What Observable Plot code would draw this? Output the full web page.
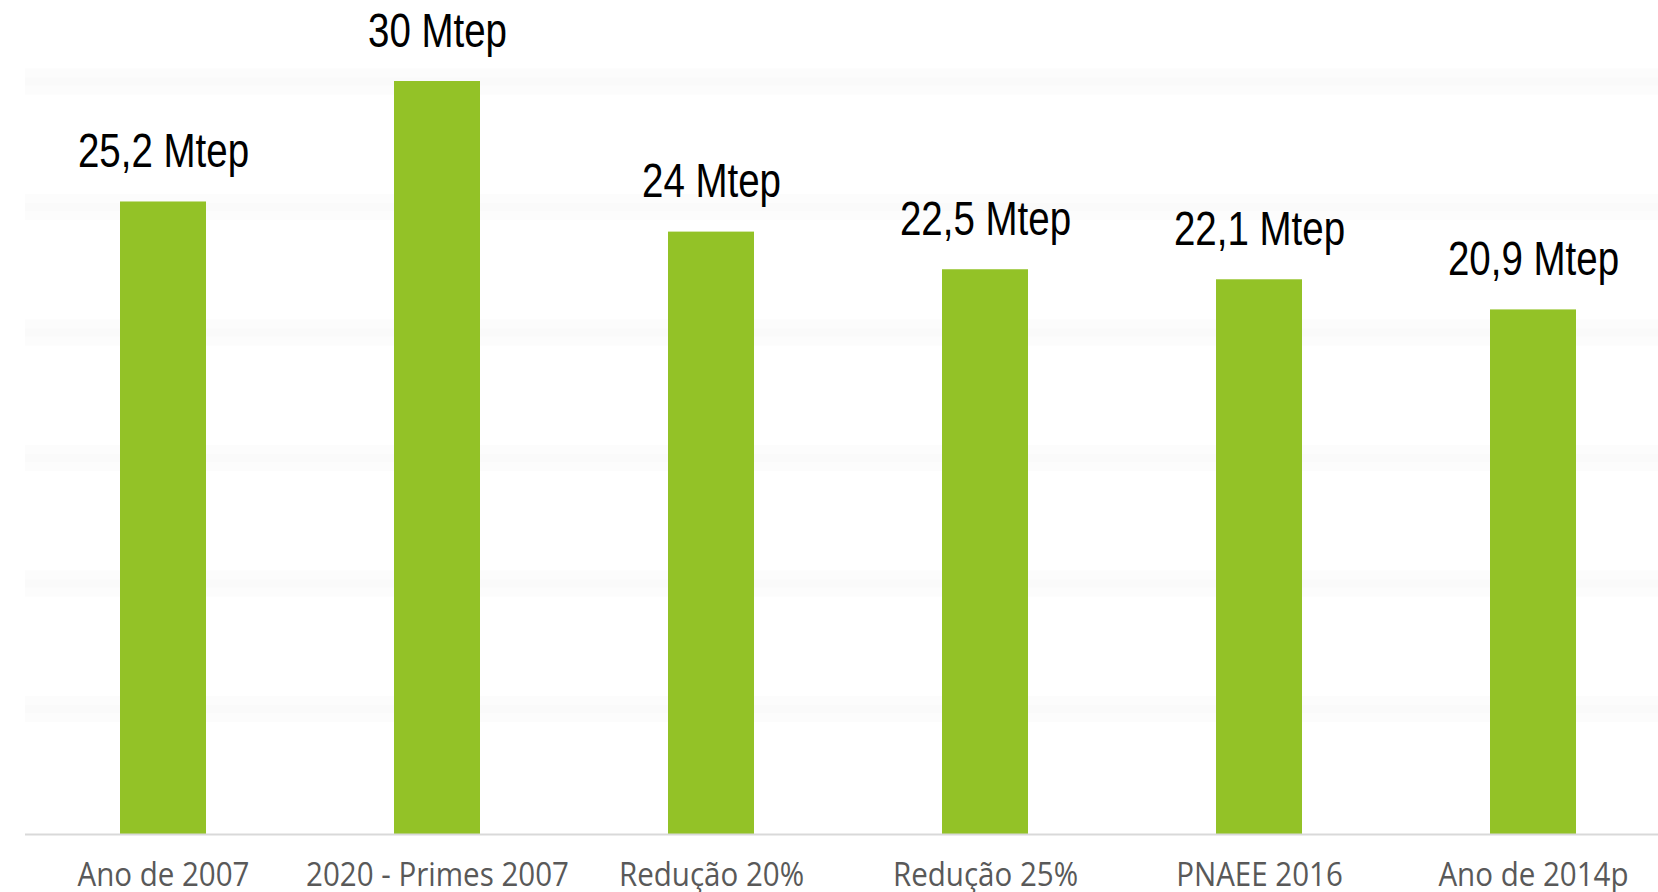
<!DOCTYPE html>
<html>
<head>
<meta charset="utf-8">
<script src="https://cdn.jsdelivr.net/npm/d3@7"></script>
<script src="https://cdn.jsdelivr.net/npm/@observablehq/plot@0.6"></script>
<style>
  html, body { margin: 0; padding: 0; background: #ffffff; }
  #chart svg { display: block; }
</style>
</head>
<body>
<div id="chart"></div>
<script>
const categories = ["Ano de 2007", "2020 - Primes 2007", "Redução 20%", "Redução 25%", "PNAEE 2016", "Ano de 2014p"];
const values = [25.2, 30, 24, 22.5, 22.1, 20.9];
const unit = "Mtep";
const gridTicks = [5, 10, 15, 20, 25, 30];

const data = categories.map((c, i) => ({category: c, value: values[i]}));
const fmt = v => String(v).replace(".", ",") + " " + unit;

const chart = Plot.plot({
  width: 1658,
  height: 892,
  marginLeft: 25,
  marginRight: 0,
  marginTop: 81,
  marginBottom: 58,
  style: {background: "#ffffff", overflow: "visible"},
  x: {domain: categories, range: [24, 1672], paddingInner: 0.687, paddingOuter: 0.342, label: null},
  y: {domain: [0, 30], axis: null},
  marks: [
    Plot.ruleY(gridTicks, {stroke: "#fcfcfc", strokeWidth: 26}),
    Plot.ruleY(gridTicks, {stroke: "#fafafa", strokeWidth: 8}),
    Plot.barY(data, {x: "category", y: "value", fill: "#93C227"}),
    Plot.ruleY([0], {stroke: "#d9d9d9", strokeWidth: 2}),
    Plot.text(data, {
      x: "category", y: "value", text: d => fmt(d.value),
      lineAnchor: "bottom", dy: -35,
      fontSize: 48, fill: "#000000", className: "vlabel",
      fontFamily: "'Liberation Sans Narrow', 'Liberation Sans', Arial, sans-serif"
    }),
    Plot.axisX({
      tickSize: 0, tickPadding: 29, fontSize: 32, fill: "#595959",
      fontFamily: "'Open Sans', 'Noto Sans', sans-serif", className: "xlabels"
    })
  ]
});

document.getElementById("chart").appendChild(chart);

// horizontally condense the text to match the original's narrow faces
function condense(selector, refText, targetWidth) {
  const texts = Array.from(chart.querySelectorAll(selector));
  const ref = texts.find(t => t.textContent === refText);
  if (!ref) return;
  const factor = targetWidth / ref.getComputedTextLength();
  if (Math.abs(factor - 1) < 0.02) return;
  texts.forEach(t => {
    const w = t.getComputedTextLength();
    t.setAttribute("textLength", (w * factor).toFixed(1));
    t.setAttribute("lengthAdjust", "spacingAndGlyphs");
  });
}
condense(".vlabel text", "30 Mtep", 139);
condense(".xlabels text", "Ano de 2007", 172);
</script>
</body>
</html>
